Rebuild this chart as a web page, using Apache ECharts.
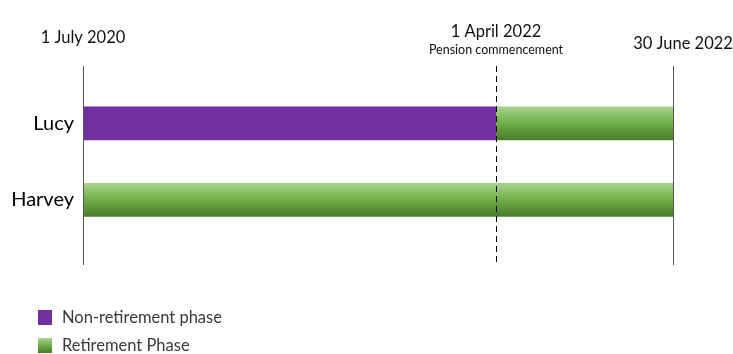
<!DOCTYPE html>
<html>
<head>
<meta charset="utf-8">
<script src="https://cdn.jsdelivr.net/npm/echarts@6/dist/echarts.min.js"></script>
<style>
  html, body { margin: 0; padding: 0; background: #fff; }
  #chart { width: 733px; height: 354px; }
</style>
</head>
<body>
<div id="chart"></div>
<script>
// people on the timeline, row 1 = top
const people = ['Lucy', 'Harvey'];
const personRows = [1, 2];

// timeline positions (schematic, not to scale)
const markerPositions = [0, 70, 100];
const markerDates = ['1 July 2020', '1 April 2022', '30 June 2022'];
const markerNotes = ['', 'Pension commencement', ''];

// phases: [start, end, row]
const nonRetirementPhase = [[0, 70, 1]];
const retirementPhase = [[70, 100, 1], [0, 100, 2]];

const FONT = 'Lato, "Open Sans", sans-serif';

const greenFill = new echarts.graphic.LinearGradient(0, 0, 0, 1, [
    { offset: 0, color: '#a9d38e' },
    { offset: 0.5, color: '#6fae46' },
    { offset: 1, color: '#4a7a2c' }
]);

function renderPhase(params, api) {
    const row = api.value(2);
    const a = api.coord([api.value(0), row]);
    const b = api.coord([api.value(1), row]);
    const h = api.size([0, 0.44])[1];
    return {
        type: 'rect',
        shape: { x: a[0], y: a[1] - h / 2, width: b[0] - a[0], height: h },
        style: api.style()
    };
}

const chart = echarts.init(document.getElementById('chart'));

// the y axis is inversed, so the top of each line is its 'start'
const labelDistance = [19, 8, 13];
const labelOffset = [[0, 0], [0, 0], [10, 0]];

const markerLines = markerPositions.map((pos, i) => {
    const dashed = i === 1;
    return {
        xAxis: pos,
        lineStyle: {
            color: dashed ? '#000' : '#555',
            type: dashed ? [6, 4] : 'solid',
            width: 1
        },
        label: {
            show: true,
            position: 'start',
            distance: labelDistance[i],
            offset: labelOffset[i],
            formatter: markerNotes[i]
                ? '{d|' + markerDates[i] + '}\n{n|' + markerNotes[i] + '}'
                : '{d|' + markerDates[i] + '}',
            rich: {
                d: { fontFamily: FONT, fontSize: 16.5, color: '#111', lineHeight: 19 },
                n: { fontFamily: FONT, fontSize: 12.5, color: '#111', lineHeight: 17 }
            }
        }
    };
});

chart.setOption({
    animation: false,
    grid: { left: 83, right: 60, top: 66, bottom: 89 },
    xAxis: {
        type: 'value',
        min: 0,
        max: 100,
        show: false
    },
    yAxis: {
        type: 'value',
        inverse: true,
        min: 0.25,
        max: 2.85,
        axisLine: { show: false },
        axisTick: { show: false },
        splitLine: { show: false },
        axisLabel: {
            customValues: personRows,
            formatter: (v) => people[personRows.indexOf(v)] || '',
            fontFamily: FONT,
            fontSize: 20,
            color: '#000',
            margin: 9
        }
    },
    legend: {
        orient: 'vertical',
        left: 33,
        top: 304,
        height: 50,
        itemWidth: 14,
        itemHeight: 15,
        itemGap: 11,
        icon: 'rect',
        textStyle: { fontFamily: FONT, fontSize: 16.5, lineHeight: 15, color: '#3a3a3a', padding: [0, 0, 0, 5] },
        data: ['Non-retirement phase', 'Retirement Phase']
    },
    series: [
        {
            name: 'Non-retirement phase',
            type: 'custom',
            renderItem: renderPhase,
            itemStyle: { color: '#7030a0' },
            encode: { x: [0, 1], y: 2 },
            data: nonRetirementPhase
        },
        {
            name: 'Retirement Phase',
            type: 'custom',
            renderItem: renderPhase,
            itemStyle: { color: greenFill },
            encode: { x: [0, 1], y: 2 },
            data: retirementPhase,
            markLine: {
                silent: true,
                symbol: 'none',
                z: 10,
                data: markerLines
            }
        }
    ]
});
</script>
</body>
</html>
